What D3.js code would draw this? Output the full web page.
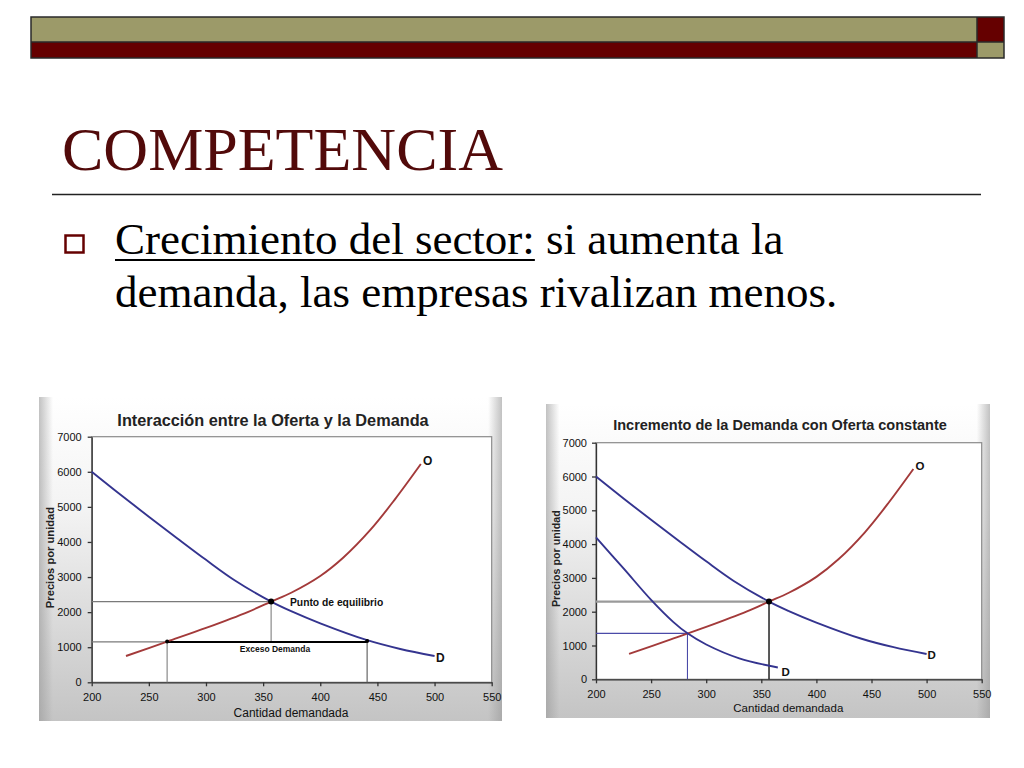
<!DOCTYPE html>
<html><head><meta charset="utf-8">
<script src="https://cdn.jsdelivr.net/npm/d3@7"></script>
<style>body{margin:0;background:#fff}svg{display:block}</style>
</head><body>
<svg id="slide" width="1024" height="768"></svg>
<script>
// ---- data ----
const slideTitle = "COMPETENCIA";
const bulletUnderlined = "Crecimiento del sector:";
const bulletRest1 = " si aumenta la";
const bulletLine2 = "demanda, las empresas rivalizan menos.";

const xTicks = [200, 250, 300, 350, 400, 450, 500, 550];
const yTicks = [0, 1000, 2000, 3000, 4000, 5000, 6000, 7000];

const supplyQ = [230, 266, 300, 337, 357, 375, 400, 420, 444, 465, 488];
const supplyP = [750, 1160, 1550, 2010, 2300, 2560, 3030, 3550, 4350, 5200, 6220];
const demandQ = [200, 225, 250, 275, 300, 325, 357, 375, 400, 441, 470, 500];
const demandP = [6000, 5350, 4720, 4100, 3490, 2910, 2300, 2020, 1680, 1200, 950, 750];
const demand2Q = [200, 225, 250, 270, 283, 300, 330, 365];
const demand2P = [4200, 3280, 2350, 1700, 1360, 1030, 620, 350];

const equilibriumQP = [357, 2300];
const excessQ = [266, 441];
const excessP = 1150;
const newEquilibriumQP = [283, 1360];

const chartTitles = ["Interacción entre la Oferta y la Demanda", "Incremento de la Demanda con Oferta constante"];
const yAxisTitle = "Precios por unidad";
const xAxisTitle = "Cantidad demandada";
const eqLabel = "Punto de equilibrio";
const excessLabel = "Exceso Demanda";
const supplyLabel = "O";
const demandLabel = "D";

// ---- slide ----
const svg = d3.select("#slide");
const defs = svg.append("defs");
const g1 = defs.append("linearGradient").attr("id", "pg").attr("x1", 0).attr("y1", 0).attr("x2", 0).attr("y2", 1);
g1.append("stop").attr("offset", "0%").attr("stop-color", "#ffffff");
g1.append("stop").attr("offset", "35%").attr("stop-color", "#f3f3f3");
g1.append("stop").attr("offset", "100%").attr("stop-color", "#c4c4c4");
const g2 = defs.append("linearGradient").attr("id", "pe").attr("x1", 0).attr("y1", 0).attr("x2", 1).attr("y2", 0);
g2.append("stop").attr("offset", "0%").attr("stop-color", "#999").attr("stop-opacity", 0.6);
g2.append("stop").attr("offset", "3%").attr("stop-color", "#999").attr("stop-opacity", 0);
g2.append("stop").attr("offset", "97%").attr("stop-color", "#999").attr("stop-opacity", 0);
g2.append("stop").attr("offset", "100%").attr("stop-color", "#999").attr("stop-opacity", 0.6);

const olive = "#9c9a69", maroon = "#650000";
// header bars
svg.append("rect").attr("x", 31).attr("y", 17).attr("width", 946).attr("height", 25).attr("fill", olive);
svg.append("rect").attr("x", 31).attr("y", 42).attr("width", 946).attr("height", 16).attr("fill", maroon);
svg.append("rect").attr("x", 977).attr("y", 17).attr("width", 27).attr("height", 25).attr("fill", maroon);
svg.append("rect").attr("x", 977).attr("y", 42).attr("width", 27).attr("height", 16).attr("fill", olive);
const hdr = svg.append("g").attr("stroke", "#2a2a2a").attr("stroke-width", 1.5).attr("fill", "none");
hdr.append("rect").attr("x", 31).attr("y", 17).attr("width", 973).attr("height", 41);
hdr.append("line").attr("x1", 31).attr("x2", 1004).attr("y1", 42).attr("y2", 42);
hdr.append("line").attr("x1", 977).attr("x2", 977).attr("y1", 17).attr("y2", 58);

// title
svg.append("text").attr("x", 62).attr("y", 170)
  .attr("font-family", "Liberation Serif, Times New Roman, serif").attr("font-size", 62)
  .attr("fill", "#520a0a").text(slideTitle);
svg.append("line").attr("x1", 52).attr("x2", 981).attr("y1", 194.5).attr("y2", 194.5)
  .attr("stroke", "#222").attr("stroke-width", 1.5);

// bullet
svg.append("rect").attr("x", 65.5).attr("y", 235.5).attr("width", 18).attr("height", 17)
  .attr("fill", "none").attr("stroke", maroon).attr("stroke-width", 2.5);
const bt = svg.append("text").attr("x", 115).attr("y", 254)
  .attr("font-family", "Liberation Serif, Times New Roman, serif").attr("font-size", 45).attr("fill", "#000");
const u = bt.append("tspan").text(bulletUnderlined);
bt.append("tspan").text(bulletRest1);
const uw = u.node().getComputedTextLength();
svg.append("line").attr("x1", 115).attr("x2", 115 + uw).attr("y1", 260).attr("y2", 260)
  .attr("stroke", "#000").attr("stroke-width", 2.2);
svg.append("text").attr("x", 115).attr("y", 307)
  .attr("font-family", "Liberation Serif, Times New Roman, serif").attr("font-size", 45).attr("fill", "#000")
  .text(bulletLine2);

// ---- charts ----
const SUPPLY = "#a33a3a", DEMAND = "#34348f";
const font = "Liberation Sans, Arial, sans-serif";

function drawChart(o) {
  const g = svg.append("g");
  g.append("rect").attr("x", o.panel[0]).attr("y", o.panel[1]).attr("width", o.panel[2]).attr("height", o.panel[3]).attr("fill", "url(#pg)");
  g.append("rect").attr("x", o.panel[0]).attr("y", o.panel[1]).attr("width", o.panel[2]).attr("height", o.panel[3]).attr("fill", "url(#pe)");
  const x = d3.scaleLinear().domain([xTicks[0], xTicks[xTicks.length - 1]]).range(o.xr);
  const y = d3.scaleLinear().domain([yTicks[0], yTicks[yTicks.length - 1]]).range(o.yr);
  // plot area
  g.append("rect").attr("x", o.xr[0]).attr("y", o.yr[1]).attr("width", o.xr[1] - o.xr[0]).attr("height", o.yr[0] - o.yr[1])
    .attr("fill", "#fff").attr("stroke", "#8a8a8a").attr("stroke-width", 1.2);
  // axes
  const ax = g.append("g").attr("transform", `translate(0,${o.yr[0]})`)
    .call(d3.axisBottom(x).tickValues(xTicks).tickFormat(d3.format("d")).tickSize(4).tickSizeOuter(0).tickPadding(o.xpad));
  const ay = g.append("g").attr("transform", `translate(${o.xr[0]},0)`)
    .call(d3.axisLeft(y).tickValues(yTicks).tickFormat(d3.format("d")).tickSize(4).tickSizeOuter(0).tickPadding(o.ypad));
  [ax, ay].forEach(a => {
    a.selectAll("path,line").attr("stroke", "#333").attr("stroke-width", 1.3);
    a.selectAll("text").attr("font-family", font).attr("font-size", o.tick).attr("fill", "#111");
  });
  // titles
  g.append("text").attr("x", o.titleXY[0]).attr("y", o.titleXY[1]).attr("text-anchor", "middle")
    .attr("font-family", font).attr("font-weight", "bold").attr("font-size", o.titleSize).attr("fill", "#222").text(o.title);
  g.append("text").attr("transform", `translate(${o.yTitleXY[0]},${o.yTitleXY[1]}) rotate(-90)`).attr("text-anchor", "middle")
    .attr("font-family", font).attr("font-weight", "bold").attr("font-size", o.axisSize).attr("fill", "#222").text(yAxisTitle);
  g.append("text").attr("x", o.xTitleXY[0]).attr("y", o.xTitleXY[1]).attr("text-anchor", "middle")
    .attr("font-family", font).attr("font-size", o.axisSize + 0.8).attr("fill", "#111").text(xAxisTitle);

  const seg = (q1, p1, q2, p2, col, w) => g.append("line")
    .attr("x1", x(q1)).attr("y1", y(p1)).attr("x2", x(q2)).attr("y2", y(p2))
    .attr("stroke", col).attr("stroke-width", w);
  o.guides(seg);

  const line = d3.line().x(d => x(d[0])).y(d => y(d[1])).curve(d3.curveCatmullRom.alpha(0.5));
  const curve = (qs, ps, col) => g.append("path").datum(qs.map((q, i) => [q, ps[i]]))
    .attr("d", line).attr("fill", "none").attr("stroke", col).attr("stroke-width", 1.9);
  curve(supplyQ, supplyP, SUPPLY);
  curve(demandQ, demandP, DEMAND);
  if (o.second) curve(demand2Q, demand2P, DEMAND);

  const dot = (q, p, r) => g.append("circle").attr("cx", x(q)).attr("cy", y(p)).attr("r", r).attr("fill", "#000");
  o.dots(dot);

  const lab = (q, p, t, size, w, anchor) => g.append("text").attr("x", x(q)).attr("y", y(p)).attr("dy", "0.35em")
    .attr("text-anchor", anchor || "middle").attr("font-family", font).attr("font-weight", w || "bold")
    .attr("font-size", size).attr("fill", "#111").text(t);
  o.labels(lab);
}

drawChart({
  panel: [39, 397, 463, 324],
  xr: [91.7, 491.7], yr: [682.3, 436.7],
  xpad: 7, ypad: 6, tick: 11,
  title: chartTitles[0], titleXY: [273, 425.5], titleSize: 16.3,
  yTitleXY: [54, 557.5], xTitleXY: [291, 716.5], axisSize: 11.2,
  guides: seg => {
    seg(xTicks[0], equilibriumQP[1], equilibriumQP[0], equilibriumQP[1], "#7a7a7a", 1.2);
    seg(equilibriumQP[0], equilibriumQP[1], equilibriumQP[0], excessP, "#8a8a8a", 1.2);
    seg(xTicks[0], excessP, excessQ[0], excessP, "#7a7a7a", 1.2);
    seg(excessQ[0], excessP, excessQ[1], excessP, "#000", 2);
    seg(excessQ[0], excessP, excessQ[0], yTicks[0], "#8a8a8a", 1.2);
    seg(excessQ[1], excessP, excessQ[1], yTicks[0], "#666", 1.2);
  },
  dots: dot => {
    dot(equilibriumQP[0], equilibriumQP[1], 3);
    dot(excessQ[0], excessP + 10, 2);
    dot(excessQ[1], excessP + 30, 2);
  },
  labels: lab => {
    lab(494, 6320, supplyLabel, 12);
    lab(505, 712, demandLabel, 12);
    lab(373.5, 2270, eqLabel, 10.3, "bold", "start");
    lab(360.4, 950, excessLabel, 8.5);
  }
});

drawChart({
  panel: [546, 404, 444, 314],
  xr: [596, 981.7], yr: [679.3, 442.7],
  xpad: 7, ypad: 5, tick: 11,
  title: chartTitles[1], titleXY: [780, 430], titleSize: 14.5,
  yTitleXY: [560, 558.7], xTitleXY: [788.3, 711.7], axisSize: 10.7,
  second: true,
  guides: seg => {
    seg(xTicks[0], equilibriumQP[1], equilibriumQP[0], equilibriumQP[1], "#9a9a9a", 2.2);
    seg(equilibriumQP[0], equilibriumQP[1], equilibriumQP[0], yTicks[0], "#222", 1.5);
    seg(xTicks[0], newEquilibriumQP[1], newEquilibriumQP[0], newEquilibriumQP[1], "#4a4aa8", 1.1);
    seg(newEquilibriumQP[0], newEquilibriumQP[1], newEquilibriumQP[0], yTicks[0], "#4a4aa8", 1.1);
  },
  dots: dot => {
    dot(equilibriumQP[0], equilibriumQP[1], 3);
  },
  labels: lab => {
    lab(494, 6310, supplyLabel, 11.5);
    lab(504.6, 719, demandLabel, 11.5);
    lab(372, 207, demandLabel, 11.5);
  }
});
</script>
</body></html>
